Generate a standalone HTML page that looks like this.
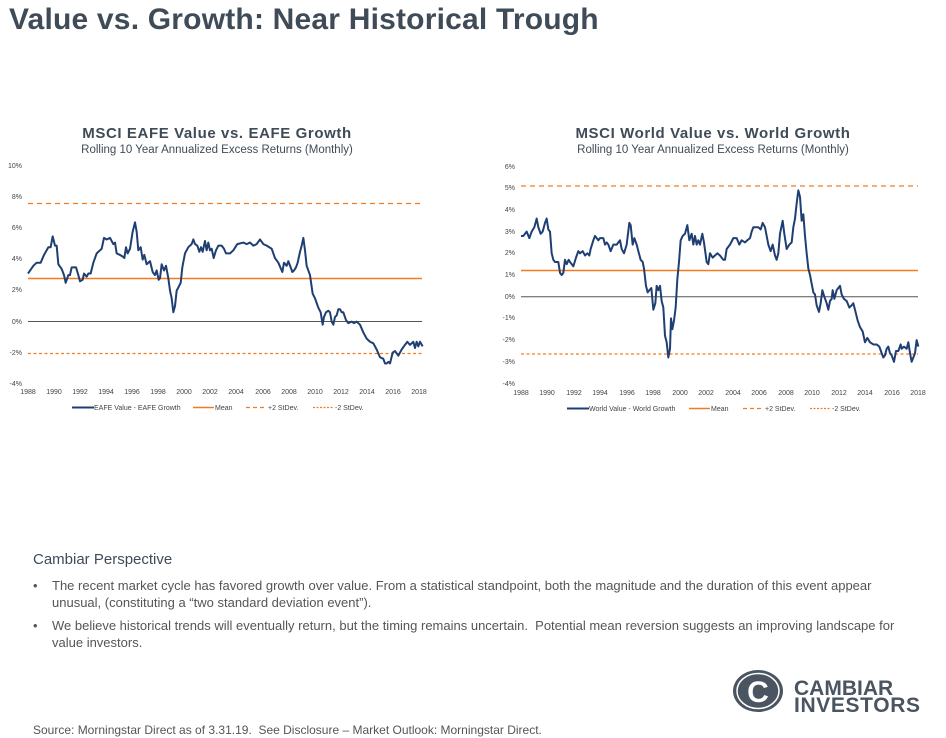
<!DOCTYPE html>
<html><head><meta charset="utf-8"><style>
body{margin:0;width:946px;height:738px;background:#fff;font-family:"Liberation Sans",sans-serif;position:relative;overflow:hidden}
.t{position:absolute;white-space:nowrap}
</style></head><body>
<div class="t" style="left:9px;top:3px;font-size:30px;color:#3f4b57;font-weight:bold;letter-spacing:0.2px">Value vs. Growth: Near Historical Trough</div>
<svg width="946" height="738" style="position:absolute;left:0;top:0" font-family="Liberation Sans, sans-serif">
<g fill="#3f4b57" font-weight="bold" text-anchor="middle" letter-spacing="0.6">
<text x="217" y="138" font-size="15">MSCI EAFE Value vs. EAFE Growth</text>
<text x="713" y="138" font-size="15">MSCI World Value vs. World Growth</text>
</g>
<g fill="#3f4b57" text-anchor="middle" font-size="11.5">
<text x="217" y="153">Rolling 10 Year Annualized Excess Returns (Monthly)</text>
<text x="713" y="153">Rolling 10 Year Annualized Excess Returns (Monthly)</text>
</g>
<g font-size="7" fill="#444" text-anchor="end">
<text x="22" y="168">10%</text><text x="22" y="199">8%</text><text x="22" y="230">6%</text><text x="22" y="261">4%</text><text x="22" y="292">2%</text><text x="22" y="324">0%</text><text x="22" y="355">-2%</text><text x="22" y="386">-4%</text>
<text x="515" y="169">6%</text><text x="515" y="190">5%</text><text x="515" y="212">4%</text><text x="515" y="234">3%</text><text x="515" y="255">2%</text><text x="515" y="277">1%</text><text x="515" y="299">0%</text><text x="515" y="320">-1%</text><text x="515" y="342">-2%</text><text x="515" y="364">-3%</text><text x="515" y="386">-4%</text>
</g>
<g font-size="7" fill="#444" text-anchor="middle">
<text x="28" y="394">1988</text><text x="54" y="394">1990</text><text x="80" y="394">1992</text><text x="106" y="394">1994</text><text x="132" y="394">1996</text><text x="158" y="394">1998</text><text x="184" y="394">2000</text><text x="210" y="394">2002</text><text x="236" y="394">2004</text><text x="263" y="394">2006</text><text x="289" y="394">2008</text><text x="315" y="394">2010</text><text x="341" y="394">2012</text><text x="367" y="394">2014</text><text x="393" y="394">2016</text><text x="419" y="394">2018</text>
<text x="521" y="395">1988</text><text x="547" y="395">1990</text><text x="574" y="395">1992</text><text x="600" y="395">1994</text><text x="627" y="395">1996</text><text x="653" y="395">1998</text><text x="680" y="395">2000</text><text x="706" y="395">2002</text><text x="733" y="395">2004</text><text x="759" y="395">2006</text><text x="786" y="395">2008</text><text x="812" y="395">2010</text><text x="839" y="395">2012</text><text x="865" y="395">2014</text><text x="892" y="395">2016</text><text x="918" y="395">2018</text>
</g>
<line x1="28" y1="321.5" x2="422" y2="321.5" stroke="#555" stroke-width="1"/>
<line x1="28" y1="278.5" x2="422" y2="278.5" stroke="#f47a20" stroke-width="1.5"/>
<line x1="28" y1="203.5" x2="422" y2="203.5" stroke="#f47a20" stroke-width="1.2" stroke-dasharray="5,4"/>
<line x1="28" y1="353.5" x2="422" y2="353.5" stroke="#f47a20" stroke-width="1.2" stroke-dasharray="3,2.5"/>
<line x1="521" y1="296.7" x2="918" y2="296.7" stroke="#555" stroke-width="1"/>
<line x1="521" y1="270.5" x2="918" y2="270.5" stroke="#f47a20" stroke-width="1.5"/>
<line x1="521" y1="186" x2="918" y2="186" stroke="#f47a20" stroke-width="1.2" stroke-dasharray="5,4"/>
<line x1="521" y1="354" x2="918" y2="354" stroke="#f47a20" stroke-width="1.2" stroke-dasharray="3,2.5"/>
<g transform="translate(0,321.6) scale(0.33333,-15.5)">
<polyline fill="none" stroke="#1f3f73" stroke-width="2" vector-effect="non-scaling-stroke" stroke-linejoin="round" points="84,3.1 100,3.6 110,3.8 122,3.8 132,4.3 145,4.8 152,4.8 158,5.5 165,4.9 170,4.9 175,3.7 185,3.4 192,3.0 197,2.5 205,3.0 210,3.0 215,3.5 228,3.5 235,3.0 240,2.6 248,2.7 252,3.1 260,2.9 265,3.1 272,3.1 280,3.8 290,4.4 300,4.6 305,4.7 312,5.4 320,5.3 330,5.4 340,5.0 345,5.1 350,4.4 360,4.3 368,4.2 373,4.1 378,4.8 383,4.4 390,4.7 398,5.8 405,6.4 410,5.8 415,4.6 422,4.8 428,4.0 433,4.3 440,3.7 450,3.9 458,3.2 465,3.0 470,3.3 476,2.7 480,2.8 485,3.7 492,3.3 498,3.6 505,2.8 510,2.0 515,1.5 520,0.6 525,1.0 530,2.0 535,2.2 542,2.5 547,3.5 555,4.4 565,4.8 575,5.0 580,5.3 585,5.0 592,4.9 598,4.5 603,4.8 608,4.5 615,5.2 620,4.6 625,5.1 630,4.6 635,4.7 641,4.1 648,4.6 655,4.9 665,4.9 672,4.7 678,4.4 690,4.4 700,4.6 712,5.0 730,5.1 740,5.0 750,5.1 760,4.9 770,5.0 780,5.3 790,5.0 800,4.9 815,4.7 825,4.1 835,3.8 847,3.2 852,3.8 860,3.6 865,3.9 872,3.5 877,3.2 882,3.3 888,3.5 893,3.8 900,4.5 905,4.9 910,5.4 915,4.6 920,3.6 930,3.0 938,1.8 945,1.5 950,1.2 955,0.9 962,0.6 968,-0.2 972,0.3 978,0.6 985,0.7 990,0.6 995,0.0 1000,-0.2 1005,0.3 1010,0.4 1015,0.8 1020,0.8 1025,0.6 1030,0.6 1038,0.1 1045,-0.1 1055,0.0 1062,-0.1 1070,0.0 1080,-0.2 1090,-0.7 1100,-1.1 1110,-1.3 1120,-1.4 1130,-1.8 1140,-2.3 1150,-2.4 1155,-2.7 1160,-2.7 1165,-2.6 1170,-2.7 1178,-2.0 1185,-1.9 1195,-2.2 1205,-1.8 1215,-1.5 1222,-1.3 1230,-1.5 1240,-1.3 1245,-1.7 1250,-1.3 1255,-1.6 1260,-1.3 1268,-1.6"/>
</g>
<g transform="translate(490,296.7) scale(0.33333,-21.7)">
<polyline fill="none" stroke="#1f3f73" stroke-width="2" vector-effect="non-scaling-stroke" stroke-linejoin="round" points="93,2.8 100,2.8 110,3.0 118,2.7 125,3.0 133,3.2 140,3.6 145,3.2 152,2.9 158,3.0 165,3.4 170,3.6 175,3.1 180,3.0 185,2.0 190,1.7 195,1.6 200,1.6 205,1.6 210,1.1 215,1.0 220,1.1 225,1.7 230,1.5 236,1.7 240,1.6 245,1.5 250,1.4 258,1.8 265,2.1 270,2.0 278,2.1 285,1.9 292,2.0 298,1.9 302,2.2 310,2.6 315,2.8 320,2.7 325,2.6 330,2.7 340,2.7 345,2.4 350,2.5 355,2.4 362,2.1 370,2.4 380,2.4 390,2.6 395,2.2 402,2.0 410,2.4 418,3.4 422,3.3 428,2.4 433,2.7 440,2.4 445,2.1 452,1.7 458,1.6 462,1.3 468,0.5 473,0.2 478,0.3 484,0.4 490,-0.6 496,-0.3 500,0.5 505,0.3 510,0.5 515,-0.2 520,-0.5 525,-1.8 530,-2.1 535,-2.8 540,-2.4 543,-1.0 547,-1.5 552,-1.1 557,-0.5 562,0.8 567,1.6 572,2.6 578,2.8 585,2.9 592,3.3 598,2.6 605,2.9 610,2.4 615,2.8 620,2.4 625,2.6 630,2.4 637,2.9 642,2.5 650,1.6 655,1.5 660,2.0 668,1.8 675,1.9 682,2.0 690,1.9 700,1.7 705,1.7 710,2.2 720,2.4 730,2.7 740,2.7 748,2.4 755,2.6 765,2.5 772,2.6 780,2.7 785,3.0 790,3.2 795,3.2 805,3.2 812,3.1 818,3.4 825,3.2 830,2.8 835,2.4 842,2.1 848,2.4 855,1.9 860,1.7 865,2.0 870,2.9 878,3.5 883,2.9 890,2.2 898,2.4 905,2.5 910,3.2 915,3.6 920,4.3 925,4.9 930,4.6 935,3.5 940,3.8 945,2.8 950,2.0 955,1.3 960,1.0 965,0.6 970,0.2 975,0.1 980,-0.4 987,-0.7 992,-0.3 997,0.3 1003,0.0 1010,-0.3 1015,-0.6 1020,-0.2 1025,-0.1 1028,0.3 1033,-0.1 1040,0.3 1045,0.4 1050,0.5 1055,0.1 1062,-0.1 1070,-0.2 1078,-0.5 1085,-0.4 1090,-0.3 1095,-0.6 1103,-1.1 1110,-1.4 1118,-1.6 1125,-2.1 1132,-1.9 1140,-2.1 1150,-2.2 1160,-2.2 1168,-2.3 1175,-2.6 1180,-2.8 1185,-2.7 1190,-2.4 1195,-2.3 1200,-2.6 1205,-2.7 1212,-3.0 1218,-2.5 1225,-2.5 1232,-2.2 1235,-2.4 1242,-2.3 1250,-2.4 1255,-2.1 1260,-2.6 1265,-3.0 1270,-2.8 1275,-2.6 1280,-2.0 1285,-2.3"/>
</g>
<g font-size="7" fill="#444">
<line x1="72" y1="407.5" x2="94" y2="407.5" stroke="#1f3f73" stroke-width="2"/><text x="94" y="410">EAFE Value - EAFE Growth</text>
<line x1="193" y1="407.5" x2="214" y2="407.5" stroke="#f47a20" stroke-width="1.5"/><text x="215" y="410">Mean</text>
<line x1="246" y1="407.5" x2="267" y2="407.5" stroke="#f47a20" stroke-width="1.2" stroke-dasharray="4,3"/><text x="268" y="410">+2 StDev.</text>
<line x1="313" y1="407.5" x2="334" y2="407.5" stroke="#f47a20" stroke-width="1.2" stroke-dasharray="2,1.5"/><text x="335" y="410">-2 StDev.</text>
<line x1="567" y1="408.5" x2="589" y2="408.5" stroke="#1f3f73" stroke-width="2"/><text x="589" y="411">World Value - World Growth</text>
<line x1="689" y1="408.5" x2="710" y2="408.5" stroke="#f47a20" stroke-width="1.5"/><text x="711" y="411">Mean</text>
<line x1="743" y1="408.5" x2="764" y2="408.5" stroke="#f47a20" stroke-width="1.2" stroke-dasharray="4,3"/><text x="765" y="411">+2 StDev.</text>
<line x1="810" y1="408.5" x2="831" y2="408.5" stroke="#f47a20" stroke-width="1.2" stroke-dasharray="2,1.5"/><text x="832" y="411">-2 StDev.</text>
</g>
<ellipse cx="758" cy="691" rx="25" ry="21" fill="#4a5561"/>
<ellipse cx="758" cy="691" rx="21" ry="17.5" fill="none" stroke="#fff" stroke-width="1.5"/>
<text x="758" y="702" font-size="30" font-weight="bold" fill="#fff" text-anchor="middle">C</text>
<text x="794" y="695" font-size="21" font-weight="bold" fill="#4a5561">CAMBIAR</text>
<text x="794" y="712" font-size="21" font-weight="bold" fill="#4a5561" textLength="126">INVESTORS</text>
</svg>
<div class="t" style="left:33px;top:551px;font-size:15px;color:#3f4b57">Cambiar Perspective</div>
<div class="t" style="left:33px;top:578px;font-size:13px;color:#555;line-height:16px">•</div>
<div class="t" style="left:52px;top:577px;font-size:13px;color:#555;line-height:17px">The recent market cycle has favored growth over value. From a statistical standpoint, both the magnitude and the duration of this event appear<br>unusual, (constituting a “two standard deviation event”).</div>
<div class="t" style="left:33px;top:618px;font-size:13px;color:#555;line-height:16px">•</div>
<div class="t" style="left:52px;top:617px;font-size:13px;color:#555;line-height:17px">We believe historical trends will eventually return, but the timing remains uncertain.&nbsp; Potential mean reversion suggests an improving landscape for<br>value investors.</div>
<div class="t" style="left:33px;top:723px;font-size:12px;color:#555">Source: Morningstar Direct as of 3.31.19.&nbsp; See Disclosure – Market Outlook: Morningstar Direct.</div>
</body></html>
